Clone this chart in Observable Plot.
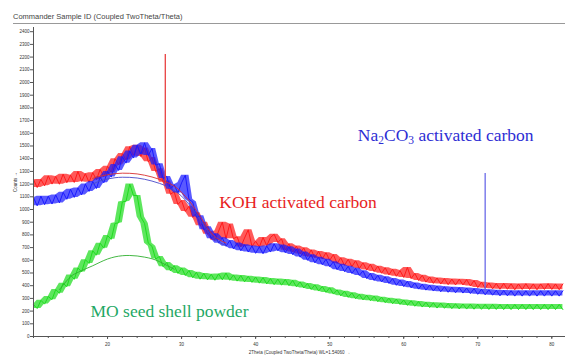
<!DOCTYPE html>
<html>
<head>
<meta charset="utf-8">
<script src="https://cdn.jsdelivr.net/npm/d3@7"></script>
<script src="https://cdn.jsdelivr.net/npm/@observablehq/plot@0.6"></script>
<style>
  html, body { margin: 0; padding: 0; background: #fff; }
  #wrap { position: relative; width: 565px; height: 356px; overflow: hidden; }
  #title { position: absolute; left: 13px; top: 12px; font: 7.5px "Liberation Sans", Arial, sans-serif; color: #444; white-space: nowrap; }
  #rule { position: absolute; left: 13px; right: 0; top: 23px; border-top: 1px solid #999; }
  #chart { position: absolute; left: 0; top: 0; }
</style>
</head>
<body>
<div id="wrap">
  <div id="chart"></div>
  <div id="title">Commander Sample ID (Coupled TwoTheta/Theta)</div>
  <div id="rule"></div>
</div>
<script>
// ---- data ----
const xLabel = "2Theta (Coupled TwoTheta/Theta) WL=1.54060";
const yLabel = "Counts";

// 2θ scan grid, 10° to 81.5° in 0.5° steps
const twoTheta = d3.range(10, 82, 0.5);

// KOH activated carbon (red), two readings per degree
const kohCounts = [
  1235,1173, 1237,1186, 1265,1200, 1260,1199, 1278,1211, 1270,1213, 1300,1221, 1282,1214, // 10-17
  1290,1235, 1315,1257, 1340,1292, 1400,1350, 1440,1390, 1495,1425, 1505,1417, 1485,1375, // 18-25
  1410,1300, 1320,1215, 1225,1120, 1140,1040, 1070,985, 1025,938, 975,873, 900,805,        // 26-33
  825,755, 830,900, 770,885, 770,785, 705,775, 840,710, 750,705, 780,715,                  // 34-41
  780,805, 740,770, 680,730, 665,712, 650,698, 630,682, 620,670, 610,660,                  // 42-49
  600,645, 575,620, 560,608, 550,596, 535,580, 523,569, 511,554, 498,541,                  // 50-57
  485,530, 474,519, 465,544, 456,497, 441,482, 428,469, 418,461, 413,456,                  // 58-65
  408,452, 406,451, 406,448, 398,440, 385,428, 380,422, 375,417, 372,418,                  // 66-73
  372,415, 368,414, 370,416, 370,414, 368,414, 370,416, 370,414, 368,414                   // 74-81
];
// Na2CO3 activated carbon (blue)
const naCounts = [
  1093,1029, 1105,1038, 1105,1043, 1115,1052, 1135,1080, 1160,1095, 1170,1115, 1200,1142, // 10-17
  1220,1165, 1255,1210, 1300,1255, 1355,1307, 1415,1365, 1460,1405, 1505,1435, 1525,1425, // 18-25
  1480,1350, 1360,1245, 1260,1160, 1195,1130, 1210,1270, 1080,1060, 940,950, 840,865,      // 26-33
  770,810, 735,778, 710,755, 690,736, 675,723, 665,713, 655,706, 652,713,                  // 34-41
  665,730, 675,720, 660,706, 645,688, 625,666, 600,643, 580,624, 565,608,                  // 42-49
  550,588, 526,568, 511,553, 496,537, 481,517, 456,497, 441,482, 430,470,                  // 50-57
  418,456, 403,444, 393,434, 383,422, 373,412, 365,404, 358,397, 352,392,                  // 58-65
  348,388, 344,385, 342,382, 338,377, 332,372, 328,368, 325,364, 320,362,                  // 66-73
  320,361, 318,360, 318,360, 318,360, 318,360, 318,360, 318,360, 318,360                   // 74-81
];
// MO seed shell powder (green)
const moCounts = [
  251,220, 285,255, 315,290, 370,340, 420,392, 485,450, 540,508, 605,575,                  // 10-17
  675,640, 735,695, 795,765, 890,895, 1060,1065, 1200,1110, 1110,940, 890,735,             // 18-25
  710,610, 630,550, 583,517, 558,497, 540,480, 520,463, 505,451, 497,446,                  // 26-33
  490,443, 493,446, 500,443, 485,436, 480,430, 474,426, 469,420, 464,414,                  // 34-41
  456,408, 452,404, 449,400, 442,392, 430,382, 417,370, 407,358, 394,347,                  // 42-49
  384,334, 367,320, 357,308, 344,297, 332,288, 325,282, 318,274, 310,266,                  // 50-57
  302,258, 295,252, 288,245, 282,238, 275,232, 270,228, 266,224, 263,222,                  // 58-65
  260,219, 258,217, 256,216, 255,215, 254,214, 253,213, 253,213, 252,212,                  // 66-73
  252,212, 252,212, 252,212, 252,212, 252,212, 252,212, 252,212, 252,212                   // 74-81
];

// sharp reflections
const spikeAngle = [27.8, 71.0];
const spikeBase = [1200, 345];
const spikeTop = [2220, 1283];
const spikeSeries = ["KOH", "Na2CO3"];

// amorphous-hump fits
const kohFitAngle = [18,19,20,21,22,23,24,25,26,27,28,29,30,31,32,33,34,35,36];
const kohFitCounts = [1245,1262,1274,1282,1286,1285,1280,1270,1256,1238,1215,1185,1135,1070,990,900,815,765,735];
const naFitAngle = [18,19,20,21,22,23,24,25,26,27,28,29,30,31,32,33,34,35,36];
const naFitCounts = [1200,1225,1240,1250,1254,1253,1248,1238,1224,1206,1183,1150,1105,1040,960,875,795,745,715];
const moFitAngle = [13.5,14,15,16,17,18,19,20,21,22,23,24,25,26,27,28,29];
const moFitCounts = [370,405,470,505,532,557,585,610,627,636,638,634,625,612,590,560,530];

// tick values
const xMajorTicks = [20, 30, 40, 50, 60, 70, 80];
const xMinorTicks = d3.range(10, 82, 2);
const yTicks = d3.range(0, 2500, 100);

// series labels (data coordinates)
const labelText = ["Na2CO3 activated carbon", "KOH activated carbon", "MO seed shell powder"];
const labelAngle = [53.8, 35.1, 17.7];
const labelCounts = [1543, 1008, 150];
const labelColor = ["#2d2dd4", "#e81e1e", "#1fa865"];

// ---- build tables ----
const toRows = counts => twoTheta.map((t, i) => ({t, c: counts[i]})).filter(d => d.c != null);
const kohData = toRows(kohCounts);
const naData = toRows(naCounts);
const moData = toRows(moCounts);
const spikes = spikeAngle.map((t, i) => ({t, y1: spikeBase[i], y2: spikeTop[i], s: spikeSeries[i]}));
const kohFit = kohFitAngle.map((t, i) => ({t, c: kohFitCounts[i]}));
const naFit = naFitAngle.map((t, i) => ({t, c: naFitCounts[i]}));
const moFit = moFitAngle.map((t, i) => ({t, c: moFitCounts[i]}));
const labels = labelText.map((text, i) => ({text, t: labelAngle[i], c: labelCounts[i], color: labelColor[i]}));

// noise band: min/max envelope of neighbouring readings, plus the jagged trace itself
function noisy(data, color) {
  return [
    Plot.areaY(data, Plot.map(
      {y1: Plot.window({k: 3, reduce: "min"}), y2: Plot.window({k: 3, reduce: "max"})},
      {x: "t", y1: "c", y2: "c", fill: color, fillOpacity: 0.72})),
    Plot.line(data, {x: "t", y: "c", stroke: color, strokeWidth: 1})
  ];
}

const plot = Plot.plot({
  width: 565,
  height: 356,
  marginLeft: 33,
  marginRight: 0,
  marginTop: 27,
  marginBottom: 20,
  style: {fontFamily: "'Liberation Sans', Arial, sans-serif", fontSize: "4.5px", color: "#333", background: "white"},
  x: {domain: [10, 81.85], label: null},
  y: {domain: [0, 2433], label: null},
  marks: [
    // data
    ...noisy(moData, "#1fdc1f"),
    ...noisy(kohData, "#ff1a1a"),
    ...noisy(naData, "#1a1aff"),
    Plot.ruleX(spikes, {x: "t", y1: "y1", y2: "y2", stroke: d => d.s === "KOH" ? "#e84040" : "#6a6ae8", strokeWidth: 1.3}),
    // fits
    Plot.line(moFit, {x: "t", y: "c", stroke: "#2fb02f", strokeWidth: 0.9, curve: "natural"}),
    Plot.line(kohFit, {x: "t", y: "c", stroke: "#d83030", strokeWidth: 0.9, curve: "natural"}),
    Plot.line(naFit, {x: "t", y: "c", stroke: "#4848c8", strokeWidth: 0.9, curve: "natural"}),
    // axes
    Plot.axisX({ticks: xMinorTicks, tickSize: 2, tickFormat: () => "", stroke: "#555", label: null}),
    Plot.axisX({ticks: xMajorTicks, tickSize: 3, tickPadding: 3, tickFormat: d => String(d), stroke: "#555",
                label: xLabel, labelAnchor: "center", labelOffset: 17}),
    Plot.axisY({ticks: yTicks, tickSize: 3, tickPadding: 1, tickFormat: d => String(d), stroke: "#555",
                label: yLabel, labelAnchor: "center", labelOffset: 20}),
    Plot.ruleX([10], {stroke: "#555", strokeWidth: 1}),
    Plot.ruleY([0], {stroke: "#555", strokeWidth: 1}),
    // series labels
    Plot.text(labels, {x: "t", y: "c", text: "text", fill: "color", textAnchor: "start", lineAnchor: "bottom",
                       fontSize: 17.5, fontFamily: "'Liberation Serif', 'Times New Roman', serif"})
  ]
});
document.getElementById("chart").appendChild(plot);

// chemical-formula subscripts for the Na2CO3 label
d3.select(plot).selectAll("text").each(function() {
  if (this.textContent === "Na2CO3 activated carbon") {
    const el = d3.select(this);
    el.text(null);
    const parts = [["Na", false], ["2", true], ["CO", false], ["3", true], [" activated carbon", false]];
    let wasSub = false;
    for (const [s, sub] of parts) {
      const ts = el.append("tspan").text(s);
      if (sub) ts.attr("font-size", "11.5").attr("dy", "3");
      else if (wasSub) ts.attr("dy", "-3");
      wasSub = sub;
    }
  }
});
</script>
</body>
</html>
